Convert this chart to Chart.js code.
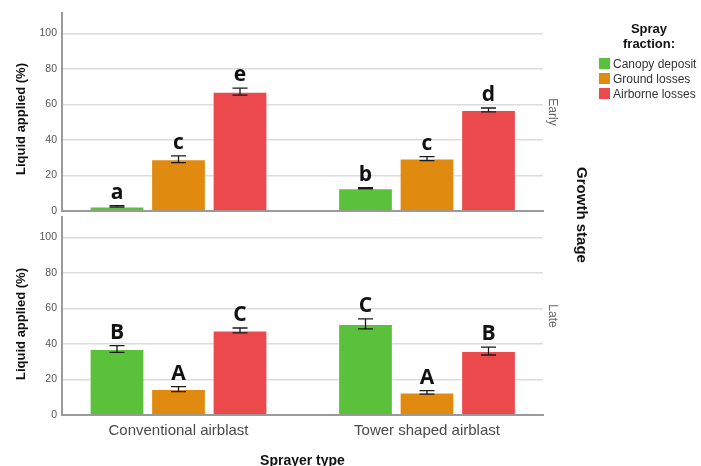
<!DOCTYPE html>
<html>
<head>
<meta charset="utf-8">
<script src="https://cdn.jsdelivr.net/npm/chart.js@4.4.0/dist/chart.umd.min.js"></script>
<style>
    html, body { margin: 0; padding: 0; background: #fff; overflow: hidden; }
    #wrap { position: relative; width: 701px; height: 466px; font-family: 'Liberation Sans', Arial, sans-serif; }
    #wrap canvas { position: absolute; left: 0; top: 0; }
    .lbl { position: absolute; white-space: nowrap; line-height: 1; }
    .rot { transform: translate(-50%, -50%) rotate(90deg); }
    .rotl { transform: translate(-50%, -50%) rotate(-90deg); }
    .ytitle { font-weight: bold; font-size: 13px; color: #111; }
    .facet { font-size: 12px; color: #666; }
    .legtitle { font-weight: bold; font-size: 13px; color: #111; text-align: center; line-height: 15px; transform: translateX(-50%); }
    .legitem { font-size: 12px; color: #333; }
    .legitem span { display: inline-block; width: 11px; height: 11px; vertical-align: -1px; margin-right: 3px; }
</style>
</head>
<body>
<div id="wrap">
    <canvas id="earlyChart" width="701" height="466"></canvas>
    <canvas id="lateChart" width="701" height="466"></canvas>
    <div class="lbl ytitle rotl" style="left:20px; top:119px;">Liquid applied (%)</div>
    <div class="lbl ytitle rotl" style="left:20px; top:324px;">Liquid applied (%)</div>
    <div class="lbl facet rot" style="left:553px; top:112px;">Early</div>
    <div class="lbl facet rot" style="left:553px; top:316px;">Late</div>
    <div class="lbl ytitle rot" style="left:582px; top:215px; font-size:15px;">Growth stage</div>
    <div class="lbl legtitle" style="left:649px; top:21px;">Spray<br>fraction:</div>
    <div id="legend"></div>
</div>
<script>
// Категории и серии
const sprayers = ['Conventional airblast', 'Tower shaped airblast'];
const fractions = ['Canopy deposit', 'Ground losses', 'Airborne losses'];
const fractionColors = ['#5cc13a', '#e08a10', '#ec494d'];
const yTicks = [0, 20, 40, 60, 80, 100];

// Ранняя стадия
const earlyCanopy = [2.6, 12.8];
const earlyGround = [29.1, 29.5];
const earlyAirborne = [67.2, 56.9];
const earlyCanopyErr = [0.4, 0.3];
const earlyGroundErr = [1.9, 1.1];
const earlyAirborneErr = [2.0, 1.1];
const earlyCanopyLetters = ['a', 'b'];
const earlyGroundLetters = ['c', 'c'];
const earlyAirborneLetters = ['e', 'd'];

// Поздняя стадия
const lateCanopy = [37.2, 51.3];
const lateGround = [14.6, 12.7];
const lateAirborne = [47.6, 36.0];
const lateCanopyErr = [1.9, 2.8];
const lateGroundErr = [1.4, 1.0];
const lateAirborneErr = [1.4, 2.2];
const lateCanopyLetters = ['B', 'C'];
const lateGroundLetters = ['A', 'A'];
const lateAirborneLetters = ['C', 'B'];

const FONT = "'Liberation Sans', Arial, sans-serif";

// Легенда
document.getElementById('legend').innerHTML = fractions.map((f, i) => `
    <div class="lbl legitem" style="left:599px; top:${58 + i * 15}px;"><span style="background:${fractionColors[i]}"></span>${f}</div>
`).join('');

// Планки погрешностей и буквы
const errorBarPlugin = {
    id: 'errorBars',
    afterDatasetsDraw(chart) {
        const ctx = chart.ctx;
        const y = chart.scales.y;
        ctx.save();
        ctx.strokeStyle = '#1a1a1a';
        ctx.lineWidth = 1.3;
        ctx.fillStyle = '#111';
        ctx.font = "bold 21px 'Open Sans', sans-serif";
        ctx.textAlign = 'center';
        ctx.textBaseline = 'alphabetic';
        chart.data.datasets.forEach((ds, i) => {
            chart.getDatasetMeta(i).data.forEach((bar, j) => {
                const v = ds.data[j].y;
                const e = ds.errors[j];
                const top = y.getPixelForValue(v + e);
                const bot = y.getPixelForValue(v - e);
                ctx.beginPath();
                ctx.moveTo(bar.x, top); ctx.lineTo(bar.x, bot);
                ctx.moveTo(bar.x - 7.5, top); ctx.lineTo(bar.x + 7.5, top);
                ctx.moveTo(bar.x - 7.5, bot); ctx.lineTo(bar.x + 7.5, bot);
                ctx.stroke();
                ctx.fillText(ds.letters[j], bar.x, top - 7);
            });
        });
        ctx.restore();
    }
};

function makeDatasets(values, errors, letters) {
    return values.map((vals, i) => ({
        label: fractions[i],
        data: vals.map((v, j) => ({ x: j, y: v })),
        errors: errors[i],
        letters: letters[i],
        backgroundColor: fractionColors[i],
        borderColor: 'rgba(255, 255, 255, 0.45)',
        borderWidth: 1,
        categoryPercentage: 0.7425,
        barPercentage: 0.89
    }));
}

function makeOptions(isLate) {
    return {
        responsive: false,
        animation: false,
        layout: {
            padding: isLate
                ? { top: 217, bottom: 0, left: 0, right: 158 }
                : { top: 13, bottom: 255, left: 0, right: 158 }
        },
        plugins: { legend: { display: false }, tooltip: { enabled: false } },
        scales: {
            x: {
                type: 'linear',
                offset: false,
                min: -0.4688,
                max: 1.4668,
                grid: { display: false, drawTicks: false },
                border: { color: '#9a9a9a', width: 2 },
                ticks: {
                    display: isLate,
                    stepSize: 1,
                    includeBounds: false,
                    padding: 7,
                    color: '#4a4a4a',
                    font: { family: FONT, size: 15 },
                    callback: v => sprayers[v] ?? ''
                },
                title: {
                    display: isLate,
                    text: 'Sprayer type',
                    color: '#111',
                    font: { family: FONT, size: 14, weight: 'bold' },
                    padding: { top: 0, bottom: -4 }
                },
                afterFit: s => { s.height = isLate ? 51 : 0; }
            },
            y: {
                min: 0,
                max: 111.5,
                afterBuildTicks: s => { s.ticks = yTicks.map(v => ({ value: v })); },
                grid: { color: '#dcdcdc', lineWidth: 1.6, drawTicks: false },
                border: { color: '#9a9a9a', width: 2 },
                ticks: {
                    padding: 5,
                    color: '#555',
                    font: { family: FONT, size: 10.5 }
                },
                afterFit: s => { s.width = 62; }
            }
        }
    };
}

// Ранняя стадия
new Chart(document.getElementById('earlyChart'), {
    type: 'bar',
    data: {
        datasets: makeDatasets(
            [earlyCanopy, earlyGround, earlyAirborne],
            [earlyCanopyErr, earlyGroundErr, earlyAirborneErr],
            [earlyCanopyLetters, earlyGroundLetters, earlyAirborneLetters]
        )
    },
    options: makeOptions(false),
    plugins: [errorBarPlugin]
});

// Поздняя стадия
new Chart(document.getElementById('lateChart'), {
    type: 'bar',
    data: {
        datasets: makeDatasets(
            [lateCanopy, lateGround, lateAirborne],
            [lateCanopyErr, lateGroundErr, lateAirborneErr],
            [lateCanopyLetters, lateGroundLetters, lateAirborneLetters]
        )
    },
    options: makeOptions(true),
    plugins: [errorBarPlugin]
});
</script>
</body>
</html>
